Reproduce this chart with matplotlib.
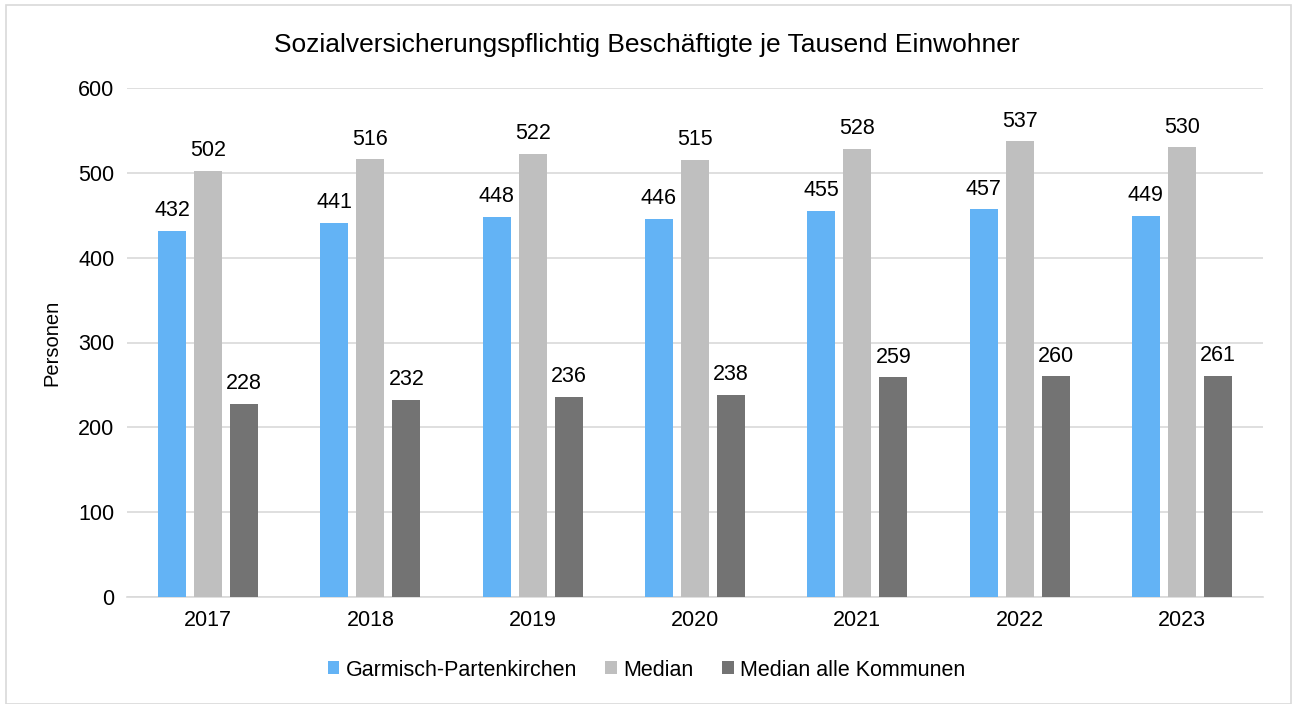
import numpy as np
import matplotlib.pyplot as plt
from matplotlib.patches import Rectangle

plt.rcParams['font.family'] = ['Liberation Sans', 'DejaVu Sans']

years = ['2017', '2018', '2019', '2020', '2021', '2022', '2023']
garmisch = [432, 441, 448, 446, 455, 457, 449]
median = [502, 516, 522, 515, 528, 537, 530]
median_alle = [228, 232, 236, 238, 259, 260, 261]

series = [
    ('Garmisch-Partenkirchen', garmisch, '#63b3f5'),
    ('Median', median, '#bfbfbf'),
    ('Median alle Kommunen', median_alle, '#737373'),
]

fig = plt.figure(figsize=(12.93, 7.04), dpi=100)
ax = fig.add_axes([127 / 1293, 1 - 597 / 704, 1136 / 1293, 509 / 704])

# light frame around the whole chart
fig.patches.append(Rectangle((6 / 1293, 0), 1285 / 1293, 699 / 704, transform=fig.transFigure,
                             fill=False, edgecolor='#d9d9d9', linewidth=1.2))

x = np.arange(len(years))
step = 0.222
width = 0.173
for i, (name, vals, col) in enumerate(series):
    bars = ax.bar(x + (i - 1) * step, vals, width, color=col, label=name, zorder=3)
    ax.bar_label(bars, padding=7, fontsize=15.5)

ax.set_xlim(-0.5, len(years) - 0.5)
ax.set_ylim(0, 600)
ax.set_yticks(range(0, 601, 100))
ax.set_xticks(x)
ax.set_xticklabels(years)
ax.tick_params(axis='both', length=0, labelsize=15.5, pad=9)
ax.yaxis.grid(True, color='#d9d9d9', linewidth=1.2, zorder=0)
for s in ['top', 'right', 'left']:
    ax.spines[s].set_visible(False)
ax.spines['bottom'].set_color('#d9d9d9')
ax.spines['bottom'].set_linewidth(1.2)

ax.set_ylabel('Personen', fontsize=14.5, labelpad=12)
fig.text(0.5, 1 - 45 / 704, 'Sozialversicherungspflichtig Beschäftigte je Tausend Einwohner',
         ha='center', va='center', fontsize=19)

fig.legend(loc='center', bbox_to_anchor=(0.5, 1 - 670 / 704), ncol=3, frameon=False,
           fontsize=15.5, handlelength=0.55, handleheight=0.55, handletextpad=0.3, columnspacing=1.3)

fig.savefig('out.png', dpi=100)
